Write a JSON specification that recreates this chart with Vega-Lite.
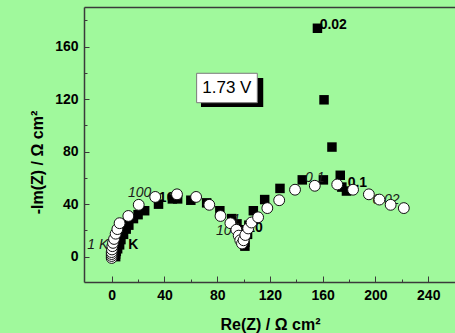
{
  "$schema": "https://vega.github.io/schema/vega-lite/v6.json",
  "width": 371,
  "height": 275,
  "autosize": {"type": "none"},
  "padding": {"left": 84, "top": 7, "right": 0, "bottom": 51},
  "background": "#a0f99c",
  "config": {
    "view": {"stroke": null},
    "axis": {
      "grid": false,
      "domainColor": "#3a3a3a",
      "domainWidth": 1.5,
      "tickColor": "#3a3a3a",
      "tickWidth": 1,
      "labelFont": "Liberation Sans",
      "labelFontWeight": "bold",
      "labelFontSize": 14,
      "labelColor": "#000000",
      "titleFont": "Liberation Sans",
      "titleFontWeight": "bold",
      "titleFontSize": 16,
      "titleColor": "#000000"
    }
  },
  "datasets": {
    "squares": [
      {"re": 3, "im": 0}, {"re": 3, "im": 2}, {"re": 3.5, "im": 4}, {"re": 4.5, "im": 6},
      {"re": 6, "im": 9}, {"re": 7, "im": 13}, {"re": 9, "im": 17}, {"re": 11, "im": 21},
      {"re": 13, "im": 24}, {"re": 16.5, "im": 29}, {"re": 20, "im": 32}, {"re": 25, "im": 35},
      {"re": 35.5, "im": 40}, {"re": 46, "im": 44}, {"re": 50, "im": 44}, {"re": 60, "im": 43},
      {"re": 72, "im": 41}, {"re": 82, "im": 35}, {"re": 91, "im": 29}, {"re": 95, "im": 25},
      {"re": 99, "im": 20.5}, {"re": 100, "im": 15}, {"re": 101, "im": 8}, {"re": 101, "im": 11},
      {"re": 103, "im": 17}, {"re": 104, "im": 24}, {"re": 107.4, "im": 35}, {"re": 116, "im": 43.5},
      {"re": 127.6, "im": 52}, {"re": 144.5, "im": 58.5}, {"re": 160.5, "im": 58.5}, {"re": 173.3, "im": 62},
      {"re": 174.5, "im": 53}, {"re": 178, "im": 50}, {"re": 167, "im": 83.5}, {"re": 161, "im": 119.5},
      {"re": 156, "im": 174}
    ],
    "circles": [
      {"re": 0, "im": -1}, {"re": 0, "im": 0.5}, {"re": 0, "im": 2}, {"re": 0, "im": 3.5},
      {"re": 0.2, "im": 5.5}, {"re": 0.5, "im": 8}, {"re": 1, "im": 10.5}, {"re": 1.8, "im": 13.5},
      {"re": 3, "im": 17.5}, {"re": 4.3, "im": 21}, {"re": 6, "im": 25.5}, {"re": 12.6, "im": 31},
      {"re": 20.5, "im": 39.5}, {"re": 33, "im": 45.5}, {"re": 49.5, "im": 47.5}, {"re": 64, "im": 45.5},
      {"re": 74, "im": 39.5}, {"re": 82.5, "im": 31}, {"re": 90, "im": 25.5}, {"re": 94.5, "im": 20.5},
      {"re": 96.3, "im": 16}, {"re": 97.5, "im": 12.5}, {"re": 98.8, "im": 10}, {"re": 100, "im": 12.5},
      {"re": 101.3, "im": 16.5}, {"re": 103.5, "im": 21.5}, {"re": 106, "im": 26}, {"re": 111, "im": 30},
      {"re": 118, "im": 37}, {"re": 127, "im": 43}, {"re": 139, "im": 51}, {"re": 154, "im": 54},
      {"re": 171, "im": 55}, {"re": 183, "im": 51}, {"re": 195, "im": 47.5}, {"re": 203, "im": 43.5},
      {"re": 211.5, "im": 39.5}, {"re": 221.5, "im": 37}
    ],
    "italicLabels": [
      {"re": -10.5, "im": 9, "text": "1 K"},
      {"re": 21.2, "im": 48.3, "text": "100"},
      {"re": 85, "im": 19.6, "text": "10"},
      {"re": 94.5, "im": 28, "text": "1"},
      {"re": 154, "im": 59.7, "text": "0.1"},
      {"re": 208, "im": 43.2, "text": "0.02"}
    ],
    "boldLabels": [
      {"re": 16.4, "im": 9, "text": "K"},
      {"re": 44.6, "im": 44.5, "text": "100"},
      {"re": 108.6, "im": 21.6, "text": "10"},
      {"re": 186.3, "im": 55.9, "text": "0.1"},
      {"re": 168, "im": 176.5, "text": "0.02"}
    ],
    "shadow": [{"x1": 67.7, "x2": 114.9, "y1": 114.1, "y2": 136.2}],
    "box": [{"x1": 64.4, "x2": 110.4, "y1": 117.3, "y2": 139.7, "cx": 87.3, "cy": 128.4, "text": "1.73 V"}]
  },
  "layer": [
    {
      "data": {"name": "shadow"},
      "mark": {"type": "rect", "fill": "#000000"},
      "encoding": {
        "x": {"field": "x1", "type": "quantitative", "scale": {"domain": [-21, 260.3], "nice": false, "zero": false}, "axis": null},
        "x2": {"field": "x2"},
        "y": {"field": "y1", "type": "quantitative", "scale": {"domain": [-19.3, 190.2], "nice": false, "zero": false}, "axis": null},
        "y2": {"field": "y2"}
      }
    },
    {
      "data": {"name": "box"},
      "mark": {"type": "rect", "fill": "#ffffff", "stroke": "#7a7a7a", "strokeWidth": 1},
      "encoding": {
        "x": {"field": "x1", "type": "quantitative", "axis": null},
        "x2": {"field": "x2"},
        "y": {"field": "y1", "type": "quantitative", "axis": null},
        "y2": {"field": "y2"}
      }
    },
    {
      "data": {"name": "box"},
      "mark": {"type": "text", "font": "Liberation Sans", "fontSize": 17, "color": "#000000", "align": "center", "baseline": "middle"},
      "encoding": {
        "x": {"field": "cx", "type": "quantitative", "axis": null},
        "y": {"field": "cy", "type": "quantitative", "axis": null},
        "text": {"field": "text"}
      }
    },
    {
      "data": {"name": "squares"},
      "mark": {"type": "point", "shape": "square", "filled": true, "color": "#000000", "size": 90, "opacity": 1},
      "encoding": {
        "x": {
          "field": "re", "type": "quantitative",
          "axis": {"orient": "bottom", "title": "Re(Z) / Ω cm²", "values": [0, 40, 80, 120, 160, 200, 240], "tickSize": -6, "labelPadding": 12, "titleY": 47.5, "titleBaseline": "alphabetic", "titleX": 186}
        },
        "y": {
          "field": "im", "type": "quantitative",
          "axis": {"orient": "left", "title": "-Im(Z) / Ω cm²", "values": [0, 40, 80, 120, 160], "tickSize": -5, "labelPadding": 11, "titleX": -42, "titleY": 155, "titleAngle": 270, "titleBaseline": "alphabetic", "titleAlign": "center"}
        }
      }
    },
    {
      "data": {"name": "italicLabels"},
      "mark": {"type": "text", "font": "Liberation Sans", "fontSize": 14, "fontStyle": "italic", "color": "#1a1a1a", "align": "center", "baseline": "middle"},
      "encoding": {
        "x": {"field": "re", "type": "quantitative", "axis": {"orient": "top", "title": null, "labels": false, "ticks": false, "domain": true}},
        "y": {"field": "im", "type": "quantitative", "axis": null},
        "text": {"field": "text"}
      }
    },
    {
      "data": {"name": "boldLabels"},
      "mark": {"type": "text", "font": "Liberation Sans", "fontSize": 14, "fontWeight": "bold", "color": "#000000", "align": "center", "baseline": "middle"},
      "encoding": {
        "x": {"field": "re", "type": "quantitative", "axis": {"orient": "bottom", "title": null, "labels": false, "domain": false, "values": [20, 60, 100, 140, 180, 220, 260], "tickSize": -3}},
        "y": {"field": "im", "type": "quantitative", "axis": {"orient": "left", "title": null, "labels": false, "domain": false, "values": [20, 60, 100, 140, 180], "tickSize": -3}},
        "text": {"field": "text"}
      }
    },
    {
      "data": {"name": "circles"},
      "mark": {"type": "point", "shape": "circle", "filled": true, "fill": "#ffffff", "stroke": "#111111", "strokeWidth": 1, "size": 118, "opacity": 1},
      "encoding": {
        "x": {"field": "re", "type": "quantitative", "axis": null},
        "y": {"field": "im", "type": "quantitative", "axis": null}
      }
    }
  ],
  "resolve": {"axis": {"x": "independent", "y": "independent"}}
}
